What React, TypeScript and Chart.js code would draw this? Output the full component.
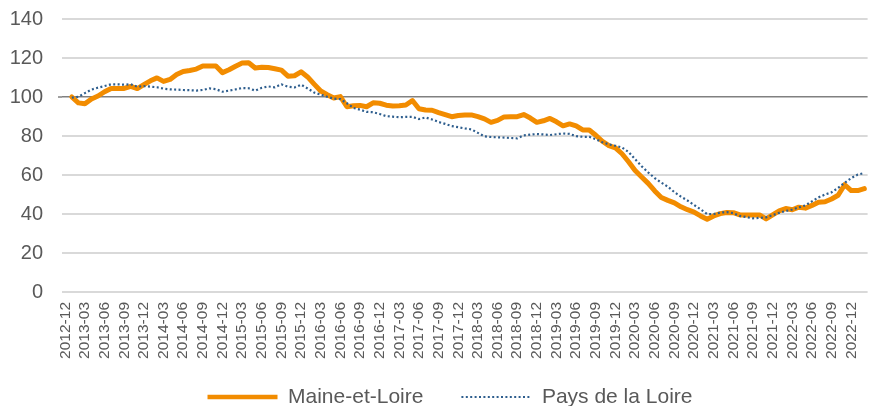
import React, { useEffect, useRef } from 'react';
import { Chart, registerables } from 'chart.js';

Chart.register(...registerables);

const categories = [
  '2012-12',
  '2013-01', '2013-02', '2013-03', '2013-04', '2013-05', '2013-06', '2013-07', '2013-08', '2013-09', '2013-10', '2013-11', '2013-12',
  '2014-01', '2014-02', '2014-03', '2014-04', '2014-05', '2014-06', '2014-07', '2014-08', '2014-09', '2014-10', '2014-11', '2014-12',
  '2015-01', '2015-02', '2015-03', '2015-04', '2015-05', '2015-06', '2015-07', '2015-08', '2015-09', '2015-10', '2015-11', '2015-12',
  '2016-01', '2016-02', '2016-03', '2016-04', '2016-05', '2016-06', '2016-07', '2016-08', '2016-09', '2016-10', '2016-11', '2016-12',
  '2017-01', '2017-02', '2017-03', '2017-04', '2017-05', '2017-06', '2017-07', '2017-08', '2017-09', '2017-10', '2017-11', '2017-12',
  '2018-01', '2018-02', '2018-03', '2018-04', '2018-05', '2018-06', '2018-07', '2018-08', '2018-09', '2018-10', '2018-11', '2018-12',
  '2019-01', '2019-02', '2019-03', '2019-04', '2019-05', '2019-06', '2019-07', '2019-08', '2019-09', '2019-10', '2019-11', '2019-12',
  '2020-01', '2020-02', '2020-03', '2020-04', '2020-05', '2020-06', '2020-07', '2020-08', '2020-09', '2020-10', '2020-11', '2020-12',
  '2021-01', '2021-02', '2021-03', '2021-04', '2021-05', '2021-06', '2021-07', '2021-08', '2021-09', '2021-10', '2021-11', '2021-12',
  '2022-01', '2022-02', '2022-03', '2022-04', '2022-05', '2022-06', '2022-07', '2022-08', '2022-09', '2022-10', '2022-11', '2022-12',
  '2023-01', '2023-02',
];

const maineEtLoire: (number | null)[] = [
  null,
  100, 97, 96.5, 99, 100.5, 102.7, 104.4, 104.4, 104.4, 105.4,
  104.3, 106.3, 108.3, 109.8, 108, 109, 111.5, 113.1, 113.6, 114.3,
  115.9, 115.9, 115.9, 112.5, 114, 115.8, 117.4, 117.6, 114.9, 115.3,
  115.1, 114.5, 113.8, 110.7, 110.9, 112.9, 110.3, 106.6, 103.1, 101.2,
  99.5, 100.2, 95, 95.5, 95.7, 95, 97, 96.8, 95.8, 95.4,
  95.5, 95.9, 98.2, 94, 93.3, 93.2, 92, 91, 89.9, 90.5,
  90.8, 90.8, 89.9, 88.8, 87, 88, 89.8, 89.9, 89.9, 91,
  89.2, 87, 87.8, 89, 87.3, 85.2, 86.2, 85.2, 83.1, 83.1,
  80.4, 77.3, 75.1, 73.9, 70.9, 66.8, 62.3, 59, 55.7, 51.8,
  48.5, 47, 45.7, 43.7, 42.2, 41, 39, 37.3, 39, 40.2,
  40.8, 40.7, 39.5, 39.5, 39.5, 39.5, 37.5, 39.6, 41.6, 42.8,
  42.2, 43.5, 43, 44.4, 46, 46.3, 47.7, 49.6, 55, 52,
  52, 53,
];

const paysDeLaLoire: (number | null)[] = [
  null,
  99.7, 100.1, 102, 103.8, 104.8, 105.6, 106.5, 106.5, 106.3, 106.5,
  105.3, 105.6, 105.3, 105, 104.3, 103.9, 103.8, 103.6, 103.5, 103.3,
  103.6, 104.4, 104, 102.7, 103.3, 103.9, 104.6, 104.5, 103.3, 104.7,
  105.4, 105, 106.5, 105.3, 104.9, 106.3, 104.4, 102.3, 101.2, 100.1,
  99.2, 98.9, 96.8, 94.4, 93.5, 92.4, 92.2, 91.3, 90.2, 89.9,
  89.6, 89.8, 89.8, 88.7, 89.5, 88.5, 87.2, 86.2, 85.1, 84.5,
  83.9, 83.4, 81.6, 79.8, 79.5, 79.3, 79.2, 79, 78.8, 80.3,
  80.7, 81, 80.8, 80.5, 80.9, 81.3, 81.1, 79.9, 79.6, 79.6,
  78.3, 76.8, 75.7, 75, 74.1, 71.8, 68.1, 64.5, 61.3, 58.4,
  56.1, 54, 51.2, 48.9, 46.9, 44.6, 42.4, 40, 40, 40.7,
  41, 40.4, 39, 38.4, 37.8, 38, 38.3, 39.4, 40.6, 41.5,
  42.3, 43.4, 44.4, 46.5, 48.5, 50, 51.1, 53.4, 56, 58.4,
  60.2, 61,
];

const seriesNames = ['Maine-et-Loire', 'Pays de la Loire'];
const yMin = 0;
const yMax = 140;
const yStep = 20;
const baseline = 100;
const labelEvery = 3;

const ORANGE = '#F28C00';
const BLUE = '#2E5E8E';
const TEXT = '#595959';
const GRID = '#D9D9D9';
const AXIS = '#808080';
const FONT = '"Liberation Sans", Arial, sans-serif';

const legendPlacement = {
  id: 'legendPlacement',
  afterLayout(chart: any) {
    const lg = chart.legend;
    if (!lg) return;
    lg.left = 28;
    lg.top -= 13.5;
    lg.bottom -= 13.5;
  },
};

const baselineTick = {
  id: 'baselineTick',
  beforeDatasetsDraw(chart: any) {
    const y = chart.scales.y.getPixelForValue(baseline);
    const left = chart.chartArea.left;
    const ctx = chart.ctx;
    ctx.save();
    ctx.strokeStyle = AXIS;
    ctx.lineWidth = 1.5;
    ctx.beginPath();
    ctx.moveTo(left - 4, y);
    ctx.lineTo(left, y);
    ctx.stroke();
    ctx.restore();
  },
};

export default function App() {
  const ref = useRef<HTMLCanvasElement>(null);

  useEffect(() => {
    if (!ref.current) return;
    const chart = new Chart(ref.current, {
      type: 'line',
      data: {
        labels: categories,
        datasets: [
          {
            label: seriesNames[0],
            data: maineEtLoire,
            borderColor: ORANGE,
            backgroundColor: ORANGE,
            borderWidth: 5,
            pointRadius: 0,
            tension: 0,
            borderCapStyle: 'round',
            borderJoinStyle: 'round',
            order: 1,
          },
          {
            label: seriesNames[1],
            data: paysDeLaLoire,
            borderColor: BLUE,
            backgroundColor: BLUE,
            borderWidth: 2.2,
            borderDash: [2, 2.4],
            pointRadius: 0,
            tension: 0,
            order: 0,
          },
        ],
      },
      options: {
        responsive: false,
        animation: false,
        devicePixelRatio: 1,
        layout: { padding: { left: 0, right: 8, top: 19, bottom: 4 } },
        plugins: {
          legend: {
            position: 'bottom',
            labels: {
              usePointStyle: true,
              pointStyle: 'line',
              pointStyleWidth: 70,
              boxHeight: 21,
              padding: 38,
              color: TEXT,
              font: { family: FONT, size: 21 },
              sort: (a: any, b: any) => a.datasetIndex - b.datasetIndex,
              generateLabels: (ch: any) => {
                const items = Chart.defaults.plugins.legend.labels.generateLabels(ch);
                return items.map((it: any) => {
                  const ds = ch.data.datasets[it.datasetIndex];
                  return {
                    ...it,
                    lineDash: ds.borderDash || [],
                    lineWidth: it.datasetIndex === 0 ? 4.5 : 2.2,
                    lineCap: 'butt',
                    strokeStyle: ds.borderColor,
                    pointStyle: 'line',
                  };
                });
              },
            },
          },
          tooltip: { enabled: false },
        },
        scales: {
          x: {
            type: 'category',
            offset: true,
            grid: { display: false, drawTicks: false },
            border: { display: false },
            ticks: {
              autoSkip: false,
              minRotation: 90,
              maxRotation: 90,
              padding: 10,
              color: TEXT,
              font: { family: FONT, size: 15.5 },
              callback: (_v: any, i: number) => (i % labelEvery === 0 ? categories[i] : null),
            },
            afterFit: (s: any) => {
              s.height = 70;
            },
          },
          y: {
            min: yMin,
            max: yMax,
            ticks: {
              stepSize: yStep,
              padding: 0,
              color: TEXT,
              font: { family: FONT, size: 20 },
            },
            grid: {
              color: (ctx: any) => (ctx.tick && ctx.tick.value === baseline ? AXIS : GRID),
              lineWidth: (ctx: any) => (ctx.tick && ctx.tick.value === baseline ? 1.5 : 2),
              drawTicks: true,
              tickLength: 19,
              tickColor: 'rgba(0,0,0,0)',
            },
            border: { display: false },
            afterFit: (s: any) => {
              s.width = 62;
            },
          },
        },
      },
      plugins: [legendPlacement, baselineTick],
    });
    return () => chart.destroy();
  }, []);

  return (
    <div
      style={{
        position: 'fixed',
        left: 0,
        top: 0,
        width: 870,
        height: 406,
        overflow: 'hidden',
        background: '#fff',
      }}
    >
      <canvas ref={ref} width={880} height={435} style={{ display: 'block', width: 880, height: 435 }} />
    </div>
  );
}
